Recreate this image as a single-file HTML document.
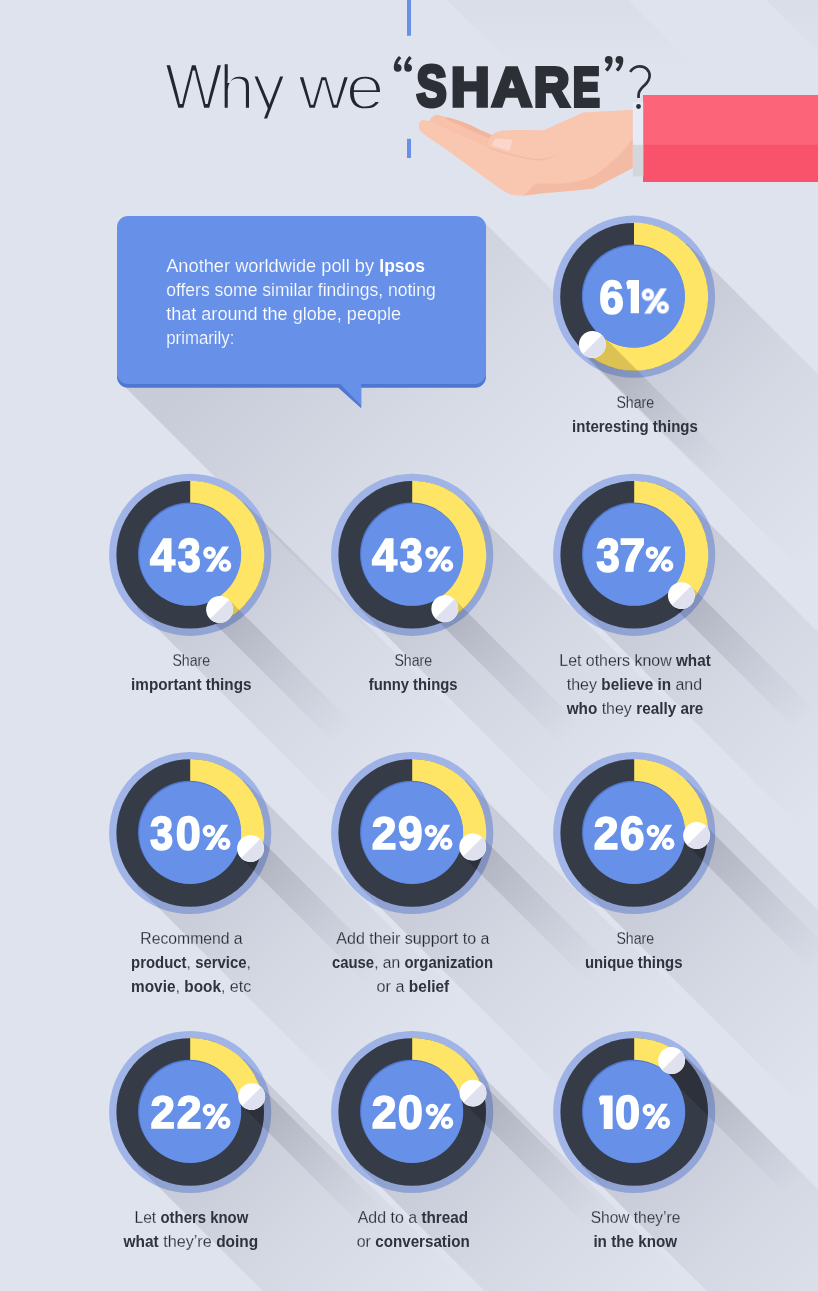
<!DOCTYPE html>
<html><head><meta charset="utf-8"><title>Why we share</title>
<style>html,body{margin:0;padding:0;background:#dfe3ee;}svg{display:block}text{font-family:"Liberation Sans",sans-serif;}</style></head><body>
<svg width="818" height="1291" viewBox="0 0 818 1291">
<defs>
<linearGradient id="gs" x1="0" y1="0" x2="1" y2="0"><stop offset="0" stop-color="#1c1e30" stop-opacity="0.14"/><stop offset="0.5" stop-color="#1c1e30" stop-opacity="0.055"/><stop offset="1" stop-color="#1c1e30" stop-opacity="0"/></linearGradient>
<linearGradient id="gk" x1="0" y1="0" x2="1" y2="0"><stop offset="0" stop-color="#1c1e30" stop-opacity="0.16"/><stop offset="0.6" stop-color="#1c1e30" stop-opacity="0.06"/><stop offset="1" stop-color="#1c1e30" stop-opacity="0"/></linearGradient>
<linearGradient id="gb" x1="0" y1="0" x2="1" y2="0"><stop offset="0" stop-color="#1c1e30" stop-opacity="0.16"/><stop offset="1" stop-color="#1c1e30" stop-opacity="0"/></linearGradient>
<clipPath id="page"><rect width="818" height="1291"/></clipPath>
</defs>
<rect width="818" height="1291" fill="#dfe3ee"/>
<g clip-path="url(#page)">
<linearGradient id="gbu" gradientUnits="userSpaceOnUse" x1="290" y1="290" x2="530" y2="530"><stop offset="0" stop-color="#1c1e30" stop-opacity="0.115"/><stop offset="0.55" stop-color="#1c1e30" stop-opacity="0.045"/><stop offset="1" stop-color="#1c1e30" stop-opacity="0"/></linearGradient>
<polygon points="121,383 502.8,764.8 863.8,601.8 482,220" fill="url(#gbu)"/>
<linearGradient id="gt" gradientUnits="userSpaceOnUse" x1="0" y1="-40" x2="0" y2="70"><stop offset="0" stop-color="#1c1e30" stop-opacity="0.045"/><stop offset="1" stop-color="#1c1e30" stop-opacity="0"/></linearGradient>
<polygon points="447,0 628,0 698,70 517,70" fill="url(#gt)"/>
<polygon points="766,0 818,0 818,52" fill="url(#gt)"/>
<circle cx="634" cy="296.7" r="81.1" fill="#a0b4e8"/>
<circle cx="190.2" cy="554.8" r="81.1" fill="#a0b4e8"/>
<circle cx="412.2" cy="554.8" r="81.1" fill="#a0b4e8"/>
<circle cx="634.2" cy="554.8" r="81.1" fill="#a0b4e8"/>
<circle cx="190.2" cy="833" r="81.1" fill="#a0b4e8"/>
<circle cx="412.2" cy="833" r="81.1" fill="#a0b4e8"/>
<circle cx="634.2" cy="833" r="81.1" fill="#a0b4e8"/>
<circle cx="190.2" cy="1112" r="81.1" fill="#a0b4e8"/>
<circle cx="412.2" cy="1112" r="81.1" fill="#a0b4e8"/>
<circle cx="634.2" cy="1112" r="81.1" fill="#a0b4e8"/>
<rect x="0" y="-75.3" width="315" height="150.6" transform="translate(634,296.7) rotate(45)" fill="url(#gs)"/>
<rect x="0" y="-75.3" width="315" height="150.6" transform="translate(190.2,554.8) rotate(45)" fill="url(#gs)"/>
<rect x="0" y="-75.3" width="315" height="150.6" transform="translate(412.2,554.8) rotate(45)" fill="url(#gs)"/>
<rect x="0" y="-75.3" width="315" height="150.6" transform="translate(634.2,554.8) rotate(45)" fill="url(#gs)"/>
<rect x="0" y="-75.3" width="315" height="150.6" transform="translate(190.2,833) rotate(45)" fill="url(#gs)"/>
<rect x="0" y="-75.3" width="315" height="150.6" transform="translate(412.2,833) rotate(45)" fill="url(#gs)"/>
<rect x="0" y="-75.3" width="315" height="150.6" transform="translate(634.2,833) rotate(45)" fill="url(#gs)"/>
<rect x="0" y="-75.3" width="315" height="150.6" transform="translate(190.2,1112) rotate(45)" fill="url(#gs)"/>
<rect x="0" y="-75.3" width="315" height="150.6" transform="translate(412.2,1112) rotate(45)" fill="url(#gs)"/>
<rect x="0" y="-75.3" width="315" height="150.6" transform="translate(634.2,1112) rotate(45)" fill="url(#gs)"/>
<rect x="0" y="-13.45" width="178" height="26.9" transform="translate(592.40,344.45) rotate(45)" fill="url(#gk)"/>
<rect x="0" y="-13.45" width="178" height="26.9" transform="translate(219.60,609.40) rotate(45)" fill="url(#gk)"/>
<rect x="0" y="-13.45" width="178" height="26.9" transform="translate(444.80,608.70) rotate(45)" fill="url(#gk)"/>
<rect x="0" y="-13.45" width="178" height="26.9" transform="translate(681.40,595.60) rotate(45)" fill="url(#gk)"/>
<rect x="0" y="-13.45" width="178" height="26.9" transform="translate(250.55,848.60) rotate(45)" fill="url(#gk)"/>
<rect x="0" y="-13.45" width="178" height="26.9" transform="translate(472.70,847.00) rotate(45)" fill="url(#gk)"/>
<rect x="0" y="-13.45" width="178" height="26.9" transform="translate(696.60,835.50) rotate(45)" fill="url(#gk)"/>
<rect x="0" y="-13.45" width="178" height="26.9" transform="translate(251.70,1096.60) rotate(45)" fill="url(#gk)"/>
<rect x="0" y="-13.45" width="178" height="26.9" transform="translate(473.00,1093.10) rotate(45)" fill="url(#gk)"/>
<rect x="0" y="-13.45" width="178" height="26.9" transform="translate(671.60,1060.50) rotate(45)" fill="url(#gk)"/>
<clipPath id="cd0"><circle cx="634" cy="296.7" r="73.8"/></clipPath><clipPath id="cy0"><path d="M634.00,222.60 A74.1,74.1 0 1 1 585.33,352.57 L601.16,334.40 A50.0,50.0 0 1 0 634.00,246.70 Z"/></clipPath>
<circle cx="634" cy="296.7" r="73.8" fill="#363c47"/>
<g clip-path="url(#cd0)"><rect x="0" y="-13.45" width="178" height="26.9" transform="translate(592.40,344.45) rotate(45)" fill="#14161e" fill-opacity="0.28"/></g>
<path d="M634.00,222.60 A74.1,74.1 0 1 1 585.33,352.57 L601.16,334.40 A50.0,50.0 0 1 0 634.00,246.70 Z" fill="#ffe566"/>
<g clip-path="url(#cy0)"><rect x="0" y="-13.45" width="178" height="26.9" transform="translate(592.40,344.45) rotate(45)" fill="#5a4a10" fill-opacity="0.22"/></g>
<circle cx="633.2" cy="295.9" r="51.4" fill="#4f77d0"/>
<circle cx="634" cy="296.7" r="51.0" fill="#6791e8"/>
<g transform="translate(592.40,344.45)"><circle r="13.45" fill="#ffffff"/><path d="M-9.51,9.51 A13.45,13.45 0 0 0 9.51,-9.51 Z" fill="#dfe2ee"/></g>
<clipPath id="cd1"><circle cx="190.2" cy="554.8" r="73.8"/></clipPath><clipPath id="cy1"><path d="M190.20,480.70 A74.1,74.1 0 0 1 225.33,620.04 L213.90,598.82 A50.0,50.0 0 0 0 190.20,504.80 Z"/></clipPath>
<circle cx="190.2" cy="554.8" r="73.8" fill="#363c47"/>
<g clip-path="url(#cd1)"><rect x="0" y="-13.45" width="178" height="26.9" transform="translate(219.60,609.40) rotate(45)" fill="#14161e" fill-opacity="0.28"/></g>
<path d="M190.20,480.70 A74.1,74.1 0 0 1 225.33,620.04 L213.90,598.82 A50.0,50.0 0 0 0 190.20,504.80 Z" fill="#ffe566"/>
<g clip-path="url(#cy1)"><rect x="0" y="-13.45" width="178" height="26.9" transform="translate(219.60,609.40) rotate(45)" fill="#5a4a10" fill-opacity="0.22"/></g>
<circle cx="189.39999999999998" cy="554.0" r="51.4" fill="#4f77d0"/>
<circle cx="190.2" cy="554.8" r="51.0" fill="#6791e8"/>
<g transform="translate(219.60,609.40)"><circle r="13.45" fill="#ffffff"/><path d="M-9.51,9.51 A13.45,13.45 0 0 0 9.51,-9.51 Z" fill="#dfe2ee"/></g>
<clipPath id="cd2"><circle cx="412.2" cy="554.8" r="73.8"/></clipPath><clipPath id="cy2"><path d="M412.20,480.70 A74.1,74.1 0 0 1 450.55,618.20 L438.08,597.58 A50.0,50.0 0 0 0 412.20,504.80 Z"/></clipPath>
<circle cx="412.2" cy="554.8" r="73.8" fill="#363c47"/>
<g clip-path="url(#cd2)"><rect x="0" y="-13.45" width="178" height="26.9" transform="translate(444.80,608.70) rotate(45)" fill="#14161e" fill-opacity="0.28"/></g>
<path d="M412.20,480.70 A74.1,74.1 0 0 1 450.55,618.20 L438.08,597.58 A50.0,50.0 0 0 0 412.20,504.80 Z" fill="#ffe566"/>
<g clip-path="url(#cy2)"><rect x="0" y="-13.45" width="178" height="26.9" transform="translate(444.80,608.70) rotate(45)" fill="#5a4a10" fill-opacity="0.22"/></g>
<circle cx="411.4" cy="554.0" r="51.4" fill="#4f77d0"/>
<circle cx="412.2" cy="554.8" r="51.0" fill="#6791e8"/>
<g transform="translate(444.80,608.70)"><circle r="13.45" fill="#ffffff"/><path d="M-9.51,9.51 A13.45,13.45 0 0 0 9.51,-9.51 Z" fill="#dfe2ee"/></g>
<clipPath id="cd3"><circle cx="634.2" cy="554.8" r="73.8"/></clipPath><clipPath id="cy3"><path d="M634.20,480.70 A74.1,74.1 0 0 1 690.26,603.26 L672.03,587.50 A50.0,50.0 0 0 0 634.20,504.80 Z"/></clipPath>
<circle cx="634.2" cy="554.8" r="73.8" fill="#363c47"/>
<g clip-path="url(#cd3)"><rect x="0" y="-13.45" width="178" height="26.9" transform="translate(681.40,595.60) rotate(45)" fill="#14161e" fill-opacity="0.28"/></g>
<path d="M634.20,480.70 A74.1,74.1 0 0 1 690.26,603.26 L672.03,587.50 A50.0,50.0 0 0 0 634.20,504.80 Z" fill="#ffe566"/>
<g clip-path="url(#cy3)"><rect x="0" y="-13.45" width="178" height="26.9" transform="translate(681.40,595.60) rotate(45)" fill="#5a4a10" fill-opacity="0.22"/></g>
<circle cx="633.4000000000001" cy="554.0" r="51.4" fill="#4f77d0"/>
<circle cx="634.2" cy="554.8" r="51.0" fill="#6791e8"/>
<g transform="translate(681.40,595.60)"><circle r="13.45" fill="#ffffff"/><path d="M-9.51,9.51 A13.45,13.45 0 0 0 9.51,-9.51 Z" fill="#dfe2ee"/></g>
<clipPath id="cd4"><circle cx="190.2" cy="833" r="73.8"/></clipPath><clipPath id="cy4"><path d="M190.20,758.90 A74.1,74.1 0 0 1 261.94,851.54 L238.61,845.51 A50.0,50.0 0 0 0 190.20,783.00 Z"/></clipPath>
<circle cx="190.2" cy="833" r="73.8" fill="#363c47"/>
<g clip-path="url(#cd4)"><rect x="0" y="-13.45" width="178" height="26.9" transform="translate(250.55,848.60) rotate(45)" fill="#14161e" fill-opacity="0.28"/></g>
<path d="M190.20,758.90 A74.1,74.1 0 0 1 261.94,851.54 L238.61,845.51 A50.0,50.0 0 0 0 190.20,783.00 Z" fill="#ffe566"/>
<g clip-path="url(#cy4)"><rect x="0" y="-13.45" width="178" height="26.9" transform="translate(250.55,848.60) rotate(45)" fill="#5a4a10" fill-opacity="0.22"/></g>
<circle cx="189.39999999999998" cy="832.2" r="51.4" fill="#4f77d0"/>
<circle cx="190.2" cy="833" r="51.0" fill="#6791e8"/>
<g transform="translate(250.55,848.60)"><circle r="13.45" fill="#ffffff"/><path d="M-9.51,9.51 A13.45,13.45 0 0 0 9.51,-9.51 Z" fill="#dfe2ee"/></g>
<clipPath id="cd5"><circle cx="412.2" cy="833" r="73.8"/></clipPath><clipPath id="cy5"><path d="M412.20,758.90 A74.1,74.1 0 0 1 484.39,849.71 L460.91,844.27 A50.0,50.0 0 0 0 412.20,783.00 Z"/></clipPath>
<circle cx="412.2" cy="833" r="73.8" fill="#363c47"/>
<g clip-path="url(#cd5)"><rect x="0" y="-13.45" width="178" height="26.9" transform="translate(472.70,847.00) rotate(45)" fill="#14161e" fill-opacity="0.28"/></g>
<path d="M412.20,758.90 A74.1,74.1 0 0 1 484.39,849.71 L460.91,844.27 A50.0,50.0 0 0 0 412.20,783.00 Z" fill="#ffe566"/>
<g clip-path="url(#cy5)"><rect x="0" y="-13.45" width="178" height="26.9" transform="translate(472.70,847.00) rotate(45)" fill="#5a4a10" fill-opacity="0.22"/></g>
<circle cx="411.4" cy="832.2" r="51.4" fill="#4f77d0"/>
<circle cx="412.2" cy="833" r="51.0" fill="#6791e8"/>
<g transform="translate(472.70,847.00)"><circle r="13.45" fill="#ffffff"/><path d="M-9.51,9.51 A13.45,13.45 0 0 0 9.51,-9.51 Z" fill="#dfe2ee"/></g>
<clipPath id="cd6"><circle cx="634.2" cy="833" r="73.8"/></clipPath><clipPath id="cy6"><path d="M634.20,758.90 A74.1,74.1 0 0 1 708.24,835.97 L684.16,835.00 A50.0,50.0 0 0 0 634.20,783.00 Z"/></clipPath>
<circle cx="634.2" cy="833" r="73.8" fill="#363c47"/>
<g clip-path="url(#cd6)"><rect x="0" y="-13.45" width="178" height="26.9" transform="translate(696.60,835.50) rotate(45)" fill="#14161e" fill-opacity="0.28"/></g>
<path d="M634.20,758.90 A74.1,74.1 0 0 1 708.24,835.97 L684.16,835.00 A50.0,50.0 0 0 0 634.20,783.00 Z" fill="#ffe566"/>
<g clip-path="url(#cy6)"><rect x="0" y="-13.45" width="178" height="26.9" transform="translate(696.60,835.50) rotate(45)" fill="#5a4a10" fill-opacity="0.22"/></g>
<circle cx="633.4000000000001" cy="832.2" r="51.4" fill="#4f77d0"/>
<circle cx="634.2" cy="833" r="51.0" fill="#6791e8"/>
<g transform="translate(696.60,835.50)"><circle r="13.45" fill="#ffffff"/><path d="M-9.51,9.51 A13.45,13.45 0 0 0 9.51,-9.51 Z" fill="#dfe2ee"/></g>
<clipPath id="cd7"><circle cx="190.2" cy="1112" r="73.8"/></clipPath><clipPath id="cy7"><path d="M190.20,1037.90 A74.1,74.1 0 0 1 262.08,1094.00 L238.70,1099.85 A50.0,50.0 0 0 0 190.20,1062.00 Z"/></clipPath>
<circle cx="190.2" cy="1112" r="73.8" fill="#363c47"/>
<g clip-path="url(#cd7)"><rect x="0" y="-13.45" width="178" height="26.9" transform="translate(251.70,1096.60) rotate(45)" fill="#14161e" fill-opacity="0.28"/></g>
<path d="M190.20,1037.90 A74.1,74.1 0 0 1 262.08,1094.00 L238.70,1099.85 A50.0,50.0 0 0 0 190.20,1062.00 Z" fill="#ffe566"/>
<g clip-path="url(#cy7)"><rect x="0" y="-13.45" width="178" height="26.9" transform="translate(251.70,1096.60) rotate(45)" fill="#5a4a10" fill-opacity="0.22"/></g>
<circle cx="189.39999999999998" cy="1111.2" r="51.4" fill="#4f77d0"/>
<circle cx="190.2" cy="1112" r="51.0" fill="#6791e8"/>
<g transform="translate(251.70,1096.60)"><circle r="13.45" fill="#ffffff"/><path d="M-9.51,9.51 A13.45,13.45 0 0 0 9.51,-9.51 Z" fill="#dfe2ee"/></g>
<clipPath id="cd8"><circle cx="412.2" cy="1112" r="73.8"/></clipPath><clipPath id="cy8"><path d="M412.20,1037.90 A74.1,74.1 0 0 1 482.96,1090.00 L459.95,1097.16 A50.0,50.0 0 0 0 412.20,1062.00 Z"/></clipPath>
<circle cx="412.2" cy="1112" r="73.8" fill="#363c47"/>
<g clip-path="url(#cd8)"><rect x="0" y="-13.45" width="178" height="26.9" transform="translate(473.00,1093.10) rotate(45)" fill="#14161e" fill-opacity="0.28"/></g>
<path d="M412.20,1037.90 A74.1,74.1 0 0 1 482.96,1090.00 L459.95,1097.16 A50.0,50.0 0 0 0 412.20,1062.00 Z" fill="#ffe566"/>
<g clip-path="url(#cy8)"><rect x="0" y="-13.45" width="178" height="26.9" transform="translate(473.00,1093.10) rotate(45)" fill="#5a4a10" fill-opacity="0.22"/></g>
<circle cx="411.4" cy="1111.2" r="51.4" fill="#4f77d0"/>
<circle cx="412.2" cy="1112" r="51.0" fill="#6791e8"/>
<g transform="translate(473.00,1093.10)"><circle r="13.45" fill="#ffffff"/><path d="M-9.51,9.51 A13.45,13.45 0 0 0 9.51,-9.51 Z" fill="#dfe2ee"/></g>
<clipPath id="cd9"><circle cx="634.2" cy="1112" r="73.8"/></clipPath><clipPath id="cy9"><path d="M634.20,1037.90 A74.1,74.1 0 0 1 677.74,1052.04 L663.58,1071.54 A50.0,50.0 0 0 0 634.20,1062.00 Z"/></clipPath>
<circle cx="634.2" cy="1112" r="73.8" fill="#363c47"/>
<g clip-path="url(#cd9)"><rect x="0" y="-13.45" width="178" height="26.9" transform="translate(671.60,1060.50) rotate(45)" fill="#14161e" fill-opacity="0.28"/></g>
<path d="M634.20,1037.90 A74.1,74.1 0 0 1 677.74,1052.04 L663.58,1071.54 A50.0,50.0 0 0 0 634.20,1062.00 Z" fill="#ffe566"/>
<g clip-path="url(#cy9)"><rect x="0" y="-13.45" width="178" height="26.9" transform="translate(671.60,1060.50) rotate(45)" fill="#5a4a10" fill-opacity="0.22"/></g>
<circle cx="633.4000000000001" cy="1111.2" r="51.4" fill="#4f77d0"/>
<circle cx="634.2" cy="1112" r="51.0" fill="#6791e8"/>
<g transform="translate(671.60,1060.50)"><circle r="13.45" fill="#ffffff"/><path d="M-9.51,9.51 A13.45,13.45 0 0 0 9.51,-9.51 Z" fill="#dfe2ee"/></g>
<g opacity="0.999">
<text transform="translate(599.15,313.60) scale(0.9213,0.9887)" font-size="48" font-weight="bold" fill="#fff" stroke="#fff" stroke-width="1.6" vector-effect="non-scaling-stroke">6</text>
<text transform="translate(149.90,571.10) scale(0.9376,0.9594)" font-size="48" font-weight="bold" fill="#fff" stroke="#fff" stroke-width="1.6" vector-effect="non-scaling-stroke">4</text>
<text transform="translate(177.85,571.70) scale(0.8627,0.9887)" font-size="48" font-weight="bold" fill="#fff" stroke="#fff" stroke-width="1.6" vector-effect="non-scaling-stroke">3</text>
<text transform="translate(371.90,571.10) scale(0.9376,0.9594)" font-size="48" font-weight="bold" fill="#fff" stroke="#fff" stroke-width="1.6" vector-effect="non-scaling-stroke">4</text>
<text transform="translate(399.85,571.70) scale(0.8627,0.9887)" font-size="48" font-weight="bold" fill="#fff" stroke="#fff" stroke-width="1.6" vector-effect="non-scaling-stroke">3</text>
<text transform="translate(596.15,571.70) scale(0.8804,0.9887)" font-size="48" font-weight="bold" fill="#fff" stroke="#fff" stroke-width="1.6" vector-effect="non-scaling-stroke">3</text>
<text transform="translate(619.55,571.10) scale(0.9609,0.9594)" font-size="48" font-weight="bold" fill="#fff" stroke="#fff" stroke-width="1.6" vector-effect="non-scaling-stroke">7</text>
<text transform="translate(149.95,849.90) scale(0.8667,0.9887)" font-size="48" font-weight="bold" fill="#fff" stroke="#fff" stroke-width="1.6" vector-effect="non-scaling-stroke">3</text>
<text transform="translate(175.80,849.90) scale(0.9368,0.9887)" font-size="48" font-weight="bold" fill="#fff" stroke="#fff" stroke-width="1.6" vector-effect="non-scaling-stroke">0</text>
<text transform="translate(371.65,849.40) scale(0.9273,0.9729)" font-size="48" font-weight="bold" fill="#fff" stroke="#fff" stroke-width="1.6" vector-effect="non-scaling-stroke">2</text>
<text transform="translate(398.05,849.90) scale(0.9220,0.9887)" font-size="48" font-weight="bold" fill="#fff" stroke="#fff" stroke-width="1.6" vector-effect="non-scaling-stroke">9</text>
<text transform="translate(593.65,849.40) scale(0.9273,0.9729)" font-size="48" font-weight="bold" fill="#fff" stroke="#fff" stroke-width="1.6" vector-effect="non-scaling-stroke">2</text>
<text transform="translate(620.05,849.90) scale(0.9172,0.9887)" font-size="48" font-weight="bold" fill="#fff" stroke="#fff" stroke-width="1.6" vector-effect="non-scaling-stroke">6</text>
<text transform="translate(150.55,1128.40) scale(0.9152,0.9729)" font-size="48" font-weight="bold" fill="#fff" stroke="#fff" stroke-width="1.6" vector-effect="non-scaling-stroke">2</text>
<text transform="translate(176.65,1128.40) scale(0.9313,0.9729)" font-size="48" font-weight="bold" fill="#fff" stroke="#fff" stroke-width="1.6" vector-effect="non-scaling-stroke">2</text>
<text transform="translate(371.65,1128.40) scale(0.9273,0.9729)" font-size="48" font-weight="bold" fill="#fff" stroke="#fff" stroke-width="1.6" vector-effect="non-scaling-stroke">2</text>
<text transform="translate(397.80,1128.90) scale(0.9408,0.9887)" font-size="48" font-weight="bold" fill="#fff" stroke="#fff" stroke-width="1.6" vector-effect="non-scaling-stroke">0</text>
<text transform="translate(614.90,1128.90) scale(0.9408,0.9887)" font-size="48" font-weight="bold" fill="#fff" stroke="#fff" stroke-width="1.6" vector-effect="non-scaling-stroke">0</text>
</g>
<g transform="translate(641.70,288.40) scale(0.9820,0.9922)"><circle cx="6.3" cy="6.3" r="4.2" fill="none" stroke="#fff" stroke-width="4.2"/><circle cx="21.5" cy="19.2" r="4.2" fill="none" stroke="#fff" stroke-width="4.2"/><polygon points="18.9,0 25.6,0 9.2,25.5 2.5,25.5" fill="#fff"/></g>
<g transform="translate(203.20,546.50) scale(1.0108,0.9922)"><circle cx="6.3" cy="6.3" r="4.2" fill="none" stroke="#fff" stroke-width="4.2"/><circle cx="21.5" cy="19.2" r="4.2" fill="none" stroke="#fff" stroke-width="4.2"/><polygon points="18.9,0 25.6,0 9.2,25.5 2.5,25.5" fill="#fff"/></g>
<g transform="translate(425.20,546.50) scale(1.0108,0.9922)"><circle cx="6.3" cy="6.3" r="4.2" fill="none" stroke="#fff" stroke-width="4.2"/><circle cx="21.5" cy="19.2" r="4.2" fill="none" stroke="#fff" stroke-width="4.2"/><polygon points="18.9,0 25.6,0 9.2,25.5 2.5,25.5" fill="#fff"/></g>
<g transform="translate(645.60,546.50) scale(1.0000,0.9922)"><circle cx="6.3" cy="6.3" r="4.2" fill="none" stroke="#fff" stroke-width="4.2"/><circle cx="21.5" cy="19.2" r="4.2" fill="none" stroke="#fff" stroke-width="4.2"/><polygon points="18.9,0 25.6,0 9.2,25.5 2.5,25.5" fill="#fff"/></g>
<g transform="translate(202.70,824.70) scale(1.0000,0.9922)"><circle cx="6.3" cy="6.3" r="4.2" fill="none" stroke="#fff" stroke-width="4.2"/><circle cx="21.5" cy="19.2" r="4.2" fill="none" stroke="#fff" stroke-width="4.2"/><polygon points="18.9,0 25.6,0 9.2,25.5 2.5,25.5" fill="#fff"/></g>
<g transform="translate(424.70,824.70) scale(1.0000,0.9922)"><circle cx="6.3" cy="6.3" r="4.2" fill="none" stroke="#fff" stroke-width="4.2"/><circle cx="21.5" cy="19.2" r="4.2" fill="none" stroke="#fff" stroke-width="4.2"/><polygon points="18.9,0 25.6,0 9.2,25.5 2.5,25.5" fill="#fff"/></g>
<g transform="translate(646.70,824.70) scale(1.0000,0.9922)"><circle cx="6.3" cy="6.3" r="4.2" fill="none" stroke="#fff" stroke-width="4.2"/><circle cx="21.5" cy="19.2" r="4.2" fill="none" stroke="#fff" stroke-width="4.2"/><polygon points="18.9,0 25.6,0 9.2,25.5 2.5,25.5" fill="#fff"/></g>
<g transform="translate(202.70,1103.70) scale(1.0000,0.9922)"><circle cx="6.3" cy="6.3" r="4.2" fill="none" stroke="#fff" stroke-width="4.2"/><circle cx="21.5" cy="19.2" r="4.2" fill="none" stroke="#fff" stroke-width="4.2"/><polygon points="18.9,0 25.6,0 9.2,25.5 2.5,25.5" fill="#fff"/></g>
<g transform="translate(425.80,1103.70) scale(0.9892,0.9922)"><circle cx="6.3" cy="6.3" r="4.2" fill="none" stroke="#fff" stroke-width="4.2"/><circle cx="21.5" cy="19.2" r="4.2" fill="none" stroke="#fff" stroke-width="4.2"/><polygon points="18.9,0 25.6,0 9.2,25.5 2.5,25.5" fill="#fff"/></g>
<g transform="translate(642.60,1103.70) scale(0.9892,0.9922)"><circle cx="6.3" cy="6.3" r="4.2" fill="none" stroke="#fff" stroke-width="4.2"/><circle cx="21.5" cy="19.2" r="4.2" fill="none" stroke="#fff" stroke-width="4.2"/><polygon points="18.9,0 25.6,0 9.2,25.5 2.5,25.5" fill="#fff"/></g>
<polygon points="628.16,279.90 639.00,279.90 639.00,313.30 630.74,313.30 630.74,288.13 627.65,289.47 626.10,282.39" fill="#fff"/>
<polygon points="601.01,1095.60 612.60,1095.60 612.60,1129.10 603.77,1129.10 603.77,1103.85 600.46,1105.20 598.80,1098.10" fill="#fff"/>
<rect x="407" y="0" width="4" height="35.8" fill="#6791e8"/><rect x="407" y="138.8" width="4" height="19.2" fill="#6791e8"/>
<path d="M128,219.7 H475 a11,11 0 0 1 11,11 V376.7 a11,11 0 0 1 -11,11 H361.2 V408.3 L338.3,387.7 H128 a11,11 0 0 1 -11,-11 V230.7 a11,11 0 0 1 11,-11 Z" fill="#4f77d0"/>
<path d="M128,216 H475 a11,11 0 0 1 11,11 V373 a11,11 0 0 1 -11,11 H361.2 V405.8 L340.3,384 H128 a11,11 0 0 1 -11,-11 V227 a11,11 0 0 1 11,-11 Z" fill="#6791e8"/>
<rect x="643" y="95" width="176" height="87" fill="#fb6479"/>
<rect x="643" y="144.8" width="176" height="37.2" fill="#f8536a"/>
<rect x="632.7" y="102" width="10.5" height="74.5" fill="#e7eaf6"/>
<rect x="632.7" y="144.8" width="10.5" height="31.7" fill="#d3d7db"/>
<path fill="#f9c6b0" d="M419,125.5 C419,121.5 421,120 424,120.2 L430,121 C431,117.5 433.5,115 437,115.2 C441,115.6 445,117.2 448.5,118 C453,119 457,120.2 461.3,121.6 C467,123.6 473,126.6 478.5,129.2 L491.5,135 C495,132.5 498.5,131 503,130.6 C515,129.6 530,130.4 543.7,130.2 L583,112.4 L632.7,109.7 L632.7,168 L593.3,188.4 C575,190.5 560,191.8 547,192.8 C538,193.6 528,195.8 519.5,195.5 C515,195.3 511,194.8 507.6,193.3 C503,191 499,188 495.6,185.6 L469.9,166.7 L444.2,147.9 C436,142.5 427,136.5 421,131.5 C419.5,130 419,128 419,125.5 Z"/>
<path fill="#f4bba4" d="M430,121 C431,117.5 433.5,115 437,115.2 C441,115.6 445,117.2 448.5,118 C453,119 457,120.2 461.3,121.6 C467,123.6 473,126.6 478.5,129.2 L491.5,135 C489,138 487.5,141 487,146.5 C470,139 450,130 430,121 Z"/>
<path fill="#f7c1aa" d="M430,121 C431,117.5 433.5,115 437,115.2 C439.5,115.5 441.5,116.2 443.5,117 C455,123 475,132.5 489.5,138.5 C488,141 487.3,143.5 487,146.5 C470,139 450,130 430,121 Z"/>
<path fill="#f2b69e" d="M446.5,117.6 C447.5,117.2 449,117.4 450.5,117.9 C454,118.9 457.5,120.2 461.3,121.6 C467,123.6 473,126.6 478.5,129.2 L491.5,135 C490.6,136 489.9,137 489.3,138.2 C475,132.3 458,124.5 446.5,119.2 Z"/>
<path fill="#f4bba4" d="M487,146.3 C493,148.6 499,150.6 505.8,152.2 C514,154.2 522,156.6 529.8,158 C533,158.7 536.5,159.2 540,158.9 C547,158.4 556,156 566,150 C558,154.5 548,160.4 540,160.6 C536,160.7 532,160 529,159.5 C520,158 512,155.8 505,153.8 C498,151.8 492,149.8 486.8,147.6 Z"/>
<path fill="#fbd6cb" d="M496.2,138.4 L510.5,139.6 C511.8,139.8 512.2,140.6 512,141.6 L510,149.6 C509.7,150.6 509,150.8 508,150.5 L493,146 C492,145.6 491.8,144.8 492.3,143.8 L494.6,139.4 C495,138.6 495.5,138.3 496.2,138.4 Z"/>
<path fill="#f4bba4" d="M632.7,138 C629,144 625,149 620.7,153.3 C615,159.5 608,165.5 601.9,170.4 C592,177.5 581,181 571,182.6 C558,184.4 548,183.4 540,183.6 C536,183.8 533.5,185 531.5,187.5 C529.5,190 527,193.5 523,195.4 C531,195.4 539,193.6 547,192.8 C560,191.8 575,190.5 593.3,188.4 L632.7,168 Z"/>
<mask id="mdark" maskUnits="userSpaceOnUse" x="0" y="0" width="818" height="1291">
<g fill="#fff" stroke="#000" stroke-width="0.3" style="vector-effect:non-scaling-stroke">
<text transform="translate(616.40,408.20) scale(0.8419,1)" font-size="16.8" xml:space="preserve" vector-effect="non-scaling-stroke">Share</text>
<text transform="translate(172.40,666.20) scale(0.8396,1)" font-size="16.8" xml:space="preserve" vector-effect="non-scaling-stroke">Share</text>
<text transform="translate(394.40,666.20) scale(0.8396,1)" font-size="16.8" xml:space="preserve" vector-effect="non-scaling-stroke">Share</text>
<text transform="translate(559.30,666.20) scale(0.9477,1)" font-size="16.8" xml:space="preserve" vector-effect="non-scaling-stroke">Let others know </text>
<text transform="translate(566.70,690.40) scale(0.9515,1)" font-size="16.8" xml:space="preserve" vector-effect="non-scaling-stroke">they </text>
<text transform="translate(671.01,690.40) scale(0.9515,1)" font-size="16.8" xml:space="preserve" vector-effect="non-scaling-stroke"> and</text>
<text transform="translate(597.23,714.30) scale(0.9501,1)" font-size="16.8" xml:space="preserve" vector-effect="non-scaling-stroke"> they </text>
<text transform="translate(140.30,943.60) scale(0.9373,1)" font-size="16.8" xml:space="preserve" vector-effect="non-scaling-stroke">Recommend a</text>
<text transform="translate(186.51,967.60) scale(0.9263,1)" font-size="16.8" xml:space="preserve" vector-effect="non-scaling-stroke">, </text>
<text transform="translate(246.47,967.60) scale(0.9263,1)" font-size="16.8" xml:space="preserve" vector-effect="non-scaling-stroke">,</text>
<text transform="translate(175.42,991.60) scale(0.9540,1)" font-size="16.8" xml:space="preserve" vector-effect="non-scaling-stroke">, </text>
<text transform="translate(220.94,991.60) scale(0.9540,1)" font-size="16.8" xml:space="preserve" vector-effect="non-scaling-stroke">, etc</text>
<text transform="translate(336.30,943.60) scale(0.9535,1)" font-size="16.8" xml:space="preserve" vector-effect="non-scaling-stroke">Add their support to a</text>
<text transform="translate(374.15,967.60) scale(0.9271,1)" font-size="16.8" xml:space="preserve" vector-effect="non-scaling-stroke">, an </text>
<text transform="translate(376.60,991.60) scale(0.9606,1)" font-size="16.8" xml:space="preserve" vector-effect="non-scaling-stroke">or a </text>
<text transform="translate(616.40,943.60) scale(0.8396,1)" font-size="16.8" xml:space="preserve" vector-effect="non-scaling-stroke">Share</text>
<text transform="translate(134.50,1223.30) scale(0.9271,1)" font-size="16.8" xml:space="preserve" vector-effect="non-scaling-stroke">Let </text>
<text transform="translate(158.71,1247.30) scale(0.9618,1)" font-size="16.8" xml:space="preserve" vector-effect="non-scaling-stroke"> they’re </text>
<text transform="translate(357.70,1223.30) scale(0.9484,1)" font-size="16.8" xml:space="preserve" vector-effect="non-scaling-stroke">Add to a </text>
<text transform="translate(356.70,1247.30) scale(0.9447,1)" font-size="16.8" xml:space="preserve" vector-effect="non-scaling-stroke">or </text>
<text transform="translate(590.70,1223.30) scale(0.9225,1)" font-size="16.8" xml:space="preserve" vector-effect="non-scaling-stroke">Show they’re</text>
</g>
<text transform="translate(164.70,109.05) scale(0.9908,1.0438)" font-size="62" font-weight="normal" fill="#fff" stroke="#000" stroke-width="2.5" vector-effect="non-scaling-stroke">W</text>
<text transform="translate(218.95,108.90) scale(1.0274,1.0106)" font-size="62" font-weight="normal" fill="#fff" stroke="#000" stroke-width="2.5" vector-effect="non-scaling-stroke">h</text>
<text transform="translate(298.15,109.30) scale(1.1389,1.0265)" font-size="62" font-weight="normal" fill="#fff" stroke="#000" stroke-width="2.5" vector-effect="non-scaling-stroke">w</text>
<text transform="translate(345.75,109.05) scale(1.1227,1.0210)" font-size="62" font-weight="normal" fill="#fff" stroke="#000" stroke-width="2.5" vector-effect="non-scaling-stroke">e</text>
<polygon points="254.6,76.5 257.7,76.5 270.3,106.6 268.7,110.6" fill="#fff"/><polygon points="280.1,76.5 283.2,76.5 267.1,118.6 264.0,118.6" fill="#fff"/>
</mask>
<mask id="mwhite" maskUnits="userSpaceOnUse" x="100" y="200" width="400" height="200">
<g fill="#fff" stroke="#000" stroke-width="0.2">
<text transform="translate(166.20,271.80) scale(0.9869,1)" font-size="18.5" xml:space="preserve" vector-effect="non-scaling-stroke">Another worldwide poll by </text>
<text transform="translate(166.20,295.80) scale(0.9477,1)" font-size="18.5" xml:space="preserve" vector-effect="non-scaling-stroke">offers some similar findings, noting</text>
<text transform="translate(166.20,319.80) scale(0.9771,1)" font-size="18.5" xml:space="preserve" vector-effect="non-scaling-stroke">that around the globe, people</text>
<text transform="translate(166.20,343.80) scale(0.9103,1)" font-size="18.5" xml:space="preserve" vector-effect="non-scaling-stroke">primarily:</text>
</g></mask>
<rect x="0" y="0" width="818" height="1291" fill="#23262e" mask="url(#mdark)"/>
<rect x="100" y="200" width="400" height="200" fill="#fff" mask="url(#mwhite)"/>
<g fill="#2f333d" font-weight="bold" opacity="0.999">
<text transform="translate(572.10,431.80) scale(0.8929,1)" font-size="16.8" xml:space="preserve" >interesting things</text>
<text transform="translate(131.10,690.40) scale(0.9088,1)" font-size="16.8" xml:space="preserve" >important things</text>
<text transform="translate(368.70,690.40) scale(0.8821,1)" font-size="16.8" xml:space="preserve" >funny things</text>
<text transform="translate(676.00,666.20) scale(0.9075,1)" font-size="16.8" xml:space="preserve" >what</text>
<text transform="translate(601.33,690.40) scale(0.9111,1)" font-size="16.8" xml:space="preserve" >believe in</text>
<text transform="translate(566.70,714.30) scale(0.9098,1)" font-size="16.8" xml:space="preserve" >who</text>
<text transform="translate(636.23,714.30) scale(0.9098,1)" font-size="16.8" xml:space="preserve" >really are</text>
<text transform="translate(131.10,967.60) scale(0.8870,1)" font-size="16.8" xml:space="preserve" >product</text>
<text transform="translate(195.15,967.60) scale(0.8870,1)" font-size="16.8" xml:space="preserve" >service</text>
<text transform="translate(131.10,991.60) scale(0.9135,1)" font-size="16.8" xml:space="preserve" >movie</text>
<text transform="translate(184.32,991.60) scale(0.9135,1)" font-size="16.8" xml:space="preserve" >book</text>
<text transform="translate(331.90,967.60) scale(0.8878,1)" font-size="16.8" xml:space="preserve" >cause</text>
<text transform="translate(404.43,967.60) scale(0.8878,1)" font-size="16.8" xml:space="preserve" >organization</text>
<text transform="translate(408.87,991.60) scale(0.9198,1)" font-size="16.8" xml:space="preserve" >belief</text>
<text transform="translate(584.90,967.60) scale(0.8864,1)" font-size="16.8" xml:space="preserve" >unique things</text>
<text transform="translate(160.46,1223.30) scale(0.8877,1)" font-size="16.8" xml:space="preserve" >others know</text>
<text transform="translate(123.50,1247.30) scale(0.9210,1)" font-size="16.8" xml:space="preserve" >what</text>
<text transform="translate(216.14,1247.30) scale(0.9210,1)" font-size="16.8" xml:space="preserve" >doing</text>
<text transform="translate(421.42,1223.30) scale(0.9081,1)" font-size="16.8" xml:space="preserve" >thread</text>
<text transform="translate(375.21,1247.30) scale(0.9046,1)" font-size="16.8" xml:space="preserve" >conversation</text>
<text transform="translate(593.40,1247.30) scale(0.9058,1)" font-size="16.8" xml:space="preserve" >in the know</text>
</g>
<g fill="#fff" font-weight="bold" opacity="0.999">
<text transform="translate(379.33,271.80) scale(0.9450,1)" font-size="18.5" xml:space="preserve" >Ipsos</text>
</g>
<g opacity="0.999"><text transform="translate(416.40,106.45) scale(0.7794,0.9811)" font-size="58" font-weight="bold" fill="#2d2f36" stroke="#2d2f36" stroke-width="3.6" vector-effect="non-scaling-stroke">S</text></g>
<g opacity="0.999"><text transform="translate(450.65,106.00) scale(0.9312,0.9575)" font-size="58" font-weight="bold" fill="#2d2f36" stroke="#2d2f36" stroke-width="3.6" vector-effect="non-scaling-stroke">H</text></g>
<g opacity="0.999"><text transform="translate(491.40,106.00) scale(0.9657,0.9575)" font-size="58" font-weight="bold" fill="#2d2f36" stroke="#2d2f36" stroke-width="3.6" vector-effect="non-scaling-stroke">A</text></g>
<g opacity="0.999"><text transform="translate(533.85,106.00) scale(0.8563,0.9575)" font-size="58" font-weight="bold" fill="#2d2f36" stroke="#2d2f36" stroke-width="3.6" vector-effect="non-scaling-stroke">R</text></g>
<g opacity="0.999"><text transform="translate(572.75,105.75) scale(0.6994,0.9462)" font-size="58" font-weight="bold" fill="#2d2f36" stroke="#2d2f36" stroke-width="3.6" vector-effect="non-scaling-stroke">E</text></g>
<path d="M630.2,71.9 C632,69 635,66.4 639.5,66.3 C645.5,66.2 649.6,70.3 649.6,75.7 C649.6,80 647.5,82.4 644.6,85.2 C641.5,88.2 638.7,90.6 638.6,94.5 L638.5,98" fill="none" stroke="#2d2f36" stroke-width="2.7" stroke-linecap="butt"/>
<circle cx="638.5" cy="106.5" r="2.4" fill="#2d2f36"/>
<path fill="#2d2f36" d="M604.80,59.90 a3.9,3.9 0 1 1 7.8,0 C612.70,64.90 610.10,68.90 607.40,71.60 L605.00,69.50 C607.10,67.30 608.30,65.50 608.80,63.80 A3.9,3.9 0 0 1 604.80,59.90 Z M615.50,59.90 a3.9,3.9 0 1 1 7.8,0 C623.40,64.90 620.80,68.90 618.10,71.60 L615.70,69.50 C617.80,67.30 619.00,65.50 619.50,63.80 A3.9,3.9 0 0 1 615.50,59.90 Z"/>
<g transform="rotate(180 403 62.2)"><path fill="#2d2f36" d="M394.00,56.60 a3.9,3.9 0 1 1 7.8,0 C401.90,61.60 399.30,65.60 396.60,68.30 L394.20,66.20 C396.30,64.00 397.50,62.20 398.00,60.50 A3.9,3.9 0 0 1 394.00,56.60 Z M404.40,56.60 a3.9,3.9 0 1 1 7.8,0 C412.30,61.60 409.70,65.60 407.00,68.30 L404.60,66.20 C406.70,64.00 407.90,62.20 408.40,60.50 A3.9,3.9 0 0 1 404.40,56.60 Z"/></g>
</g></svg></body></html>
